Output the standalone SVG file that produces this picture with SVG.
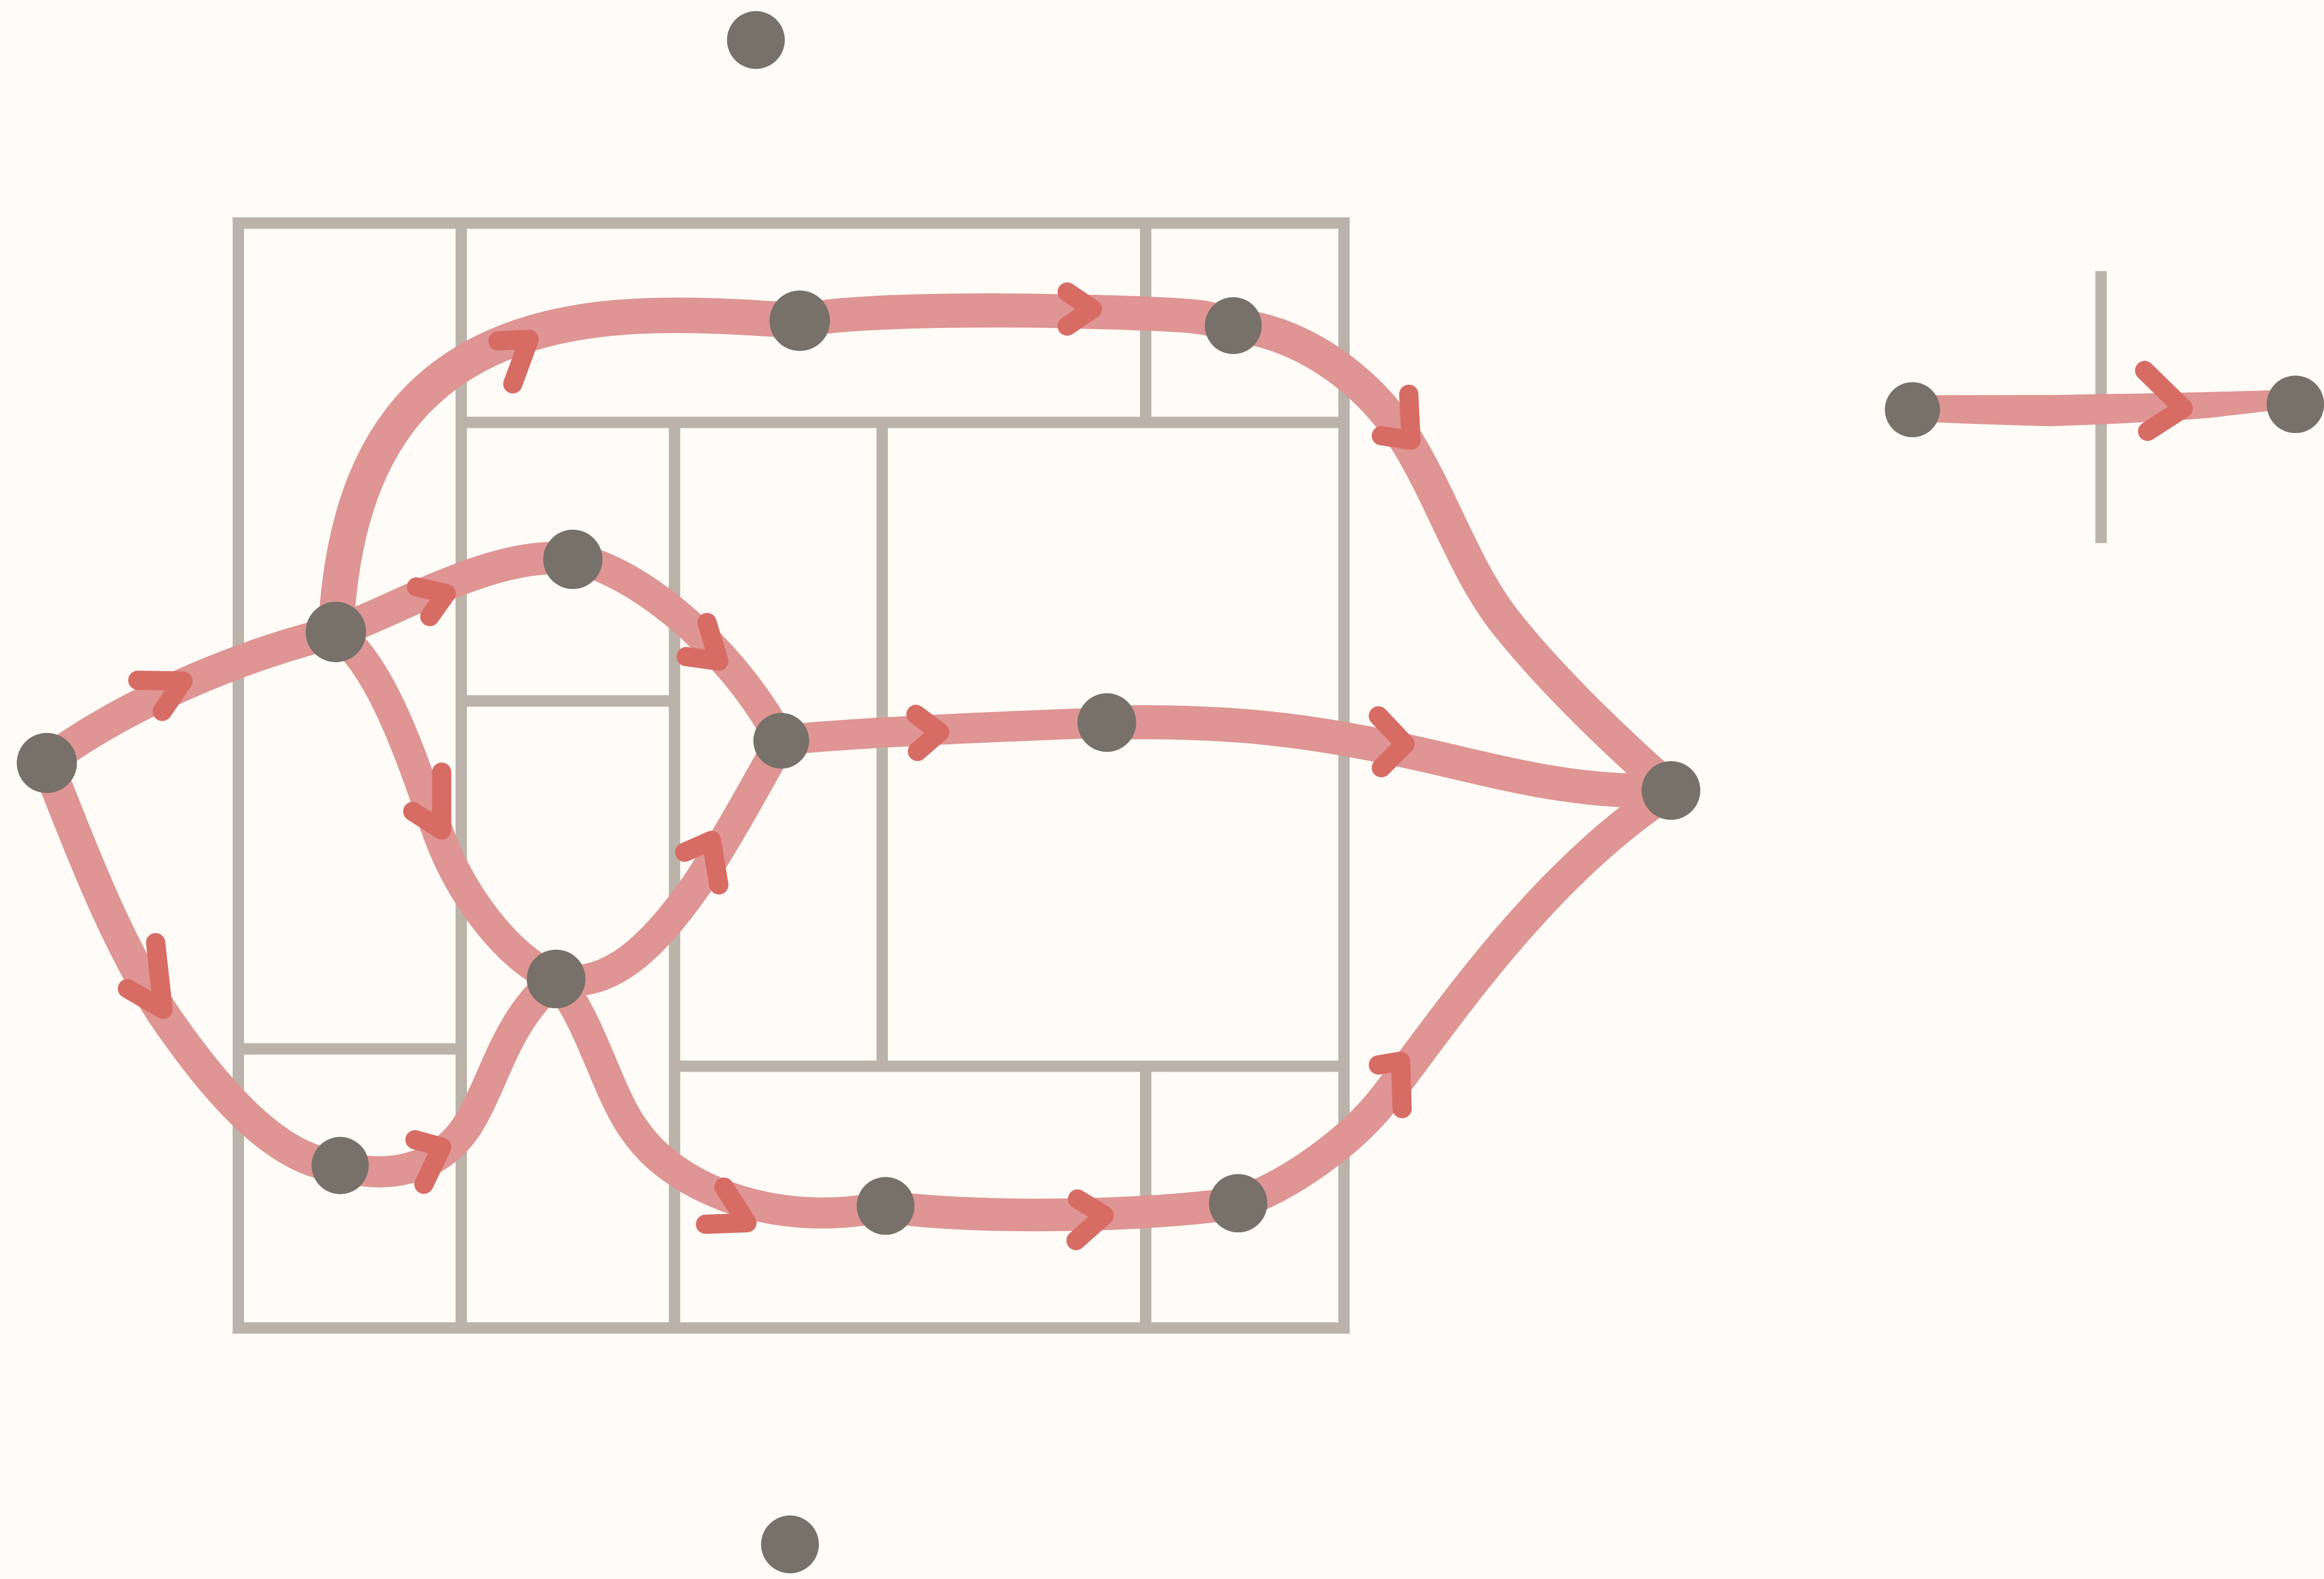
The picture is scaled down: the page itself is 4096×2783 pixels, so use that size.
<svg xmlns="http://www.w3.org/2000/svg" width="4096" height="2783" viewBox="0 0 4096 2783">
<style>
.grid{fill:none;stroke:#bbb3aa}
.edge{fill:none;stroke:#df9593;stroke-linecap:round;stroke-linejoin:round}
.edgefill{fill:#df9593;stroke:none}
.arrow{fill:none;stroke:#d76c65;stroke-linecap:round;stroke-linejoin:round}
.node{fill:#77716a}
</style>
<rect width="4096" height="2783" fill="#fffcf7"/>
<g transform="scale(2.612245)">
<g id="grid" class="grid" stroke-width="7.7">
<rect x="160.8" y="150.5" width="746" height="745.5"/>
<line x1="311.2" y1="150.5" x2="311.2" y2="896"/>
<line x1="773" y1="150.5" x2="773" y2="285"/>
<line x1="311.2" y1="285" x2="906.8" y2="285"/>
<line x1="455.1" y1="285" x2="455.1" y2="896"/>
<line x1="595.2" y1="285" x2="595.2" y2="719.4"/>
<line x1="311.2" y1="472.9" x2="455.1" y2="472.9"/>
<line x1="160.8" y1="707.7" x2="311.2" y2="707.7"/>
<line x1="455.1" y1="719.4" x2="906.8" y2="719.4"/>
<line x1="773" y1="719.4" x2="773" y2="896"/>
<line x1="1417.6" y1="182.9" x2="1417.6" y2="366.4"/>
</g>
<g id="connectors">
<g class="edge" stroke-width="22">
<path d="M31.6,514.6 C65,488 140,448 226.5,426.3"/>
<path d="M226.5,426.3 C268,412 335,370 386.5,377.4"/>
<path d="M226.5,426.3 C232,320 270,225 420,214 C460,211 505,214 539.5,216.4" stroke-width="24"/>
<path d="M539.5,216.4 C570,210 650,208 740,210.5 S810,215 832,219.7" stroke-width="23"/>
<path d="M832,219.7 C870,222 920,250 950,299 C975,340 990,390 1020,425 C1050,462 1090,500 1127.4,533.3" stroke-width="23"/>
<path d="M386.5,377.4 C420,380 490,430 527,499.8" stroke-width="21"/>
<path d="M527,499.8 C560,495 680,490 746.8,487.5" stroke-width="20.5"/>
<path d="M746.8,487.5 C830,486 880,492 950,507 C1010,520 1060,536 1127.4,533.3" stroke-width="23"/>
<path d="M226.5,426.3 C260,450 282,525 296,563 C310,601 340,645 375.2,660.5" stroke-width="21"/>
<path d="M375.2,660.5 C410,668 440,640 470,597 C490,567 510,530 527,499.8" stroke-width="21"/>
<path d="M31.6,514.6 C50,560 75,630 110,684 C140,728 185,785 229.5,786.4"/>
<path d="M229.5,786.4 C260,796 295,790 315,760 C335,728 340,690 375.2,660.5" stroke-width="21"/>
<path d="M375.2,660.5 C400,690 410,740 430,765 C455,800 520,830 597.3,814" stroke-width="21"/>
<path d="M597.3,814 C650,822 760,822 835.4,811.8"/>
<path d="M835.4,811.8 C870,800 912,770 935,740 C975,688 1040,590 1127.4,533.3"/>
</g>
<path class="edgefill" d="M1295,266.6 L1384.4,266.5 Q1460,265.5 1528,263.5 Q1545,262.5 1545,270 Q1545,277 1528,277.6 L1490,282 Q1447,285.5 1384,287.6 Q1340,286.5 1295,284.5 Z"/>
<g class="arrow" stroke-width="13">
<polyline points="93,459 123.5,459.5 109.5,480"/>
<polyline points="281,396 301,400.5 290,416"/>
<polyline points="336,230 357,229 346,259"/>
<polyline points="720,197 737,208.5 720,220"/>
<polyline points="950.5,266 952,297 932,294"/>
<polyline points="477,420 485,446 463,443"/>
<polyline points="618,482 634,494 619,507"/>
<polyline points="930,483 948,502 932,518"/>
<polyline points="298,521 298,560 278.5,547.5"/>
<polyline points="462,575 480,567 485,597"/>
<polyline points="105,636 110,681 86,667"/>
<polyline points="280,769 298,774 286,799"/>
<polyline points="488.5,801 504,825 476,826"/>
<polyline points="727,809 745,820 726,837"/>
<polyline points="930,718.5 945,716 946,748"/>
<polyline points="1447,250 1473,275.5 1449,291"/>
</g>
</g>
<g id="node-1"><circle class="node" cx="510" cy="27" r="19.5"/></g>
<g id="node-2"><circle class="node" cx="31.6" cy="514.8" r="20.3"/></g>
<g id="node-3"><circle class="node" cx="226.6" cy="426.4" r="20.4"/></g>
<g id="node-4"><circle class="node" cx="386.5" cy="377.4" r="20"/></g>
<g id="node-5"><circle class="node" cx="539.6" cy="216.4" r="20.4"/></g>
<g id="node-6"><circle class="node" cx="832.1" cy="219.7" r="19.2"/></g>
<g id="node-7"><circle class="node" cx="527.1" cy="499.8" r="18.8"/></g>
<g id="node-8"><circle class="node" cx="746.8" cy="487.5" r="19.8"/></g>
<g id="node-9"><circle class="node" cx="1127.4" cy="533.3" r="19.8"/></g>
<g id="node-10"><circle class="node" cx="375.2" cy="660.5" r="19.8"/></g>
<g id="node-11"><circle class="node" cx="229.5" cy="786.4" r="19.3"/></g>
<g id="node-12"><circle class="node" cx="597.5" cy="813.6" r="19.5"/></g>
<g id="node-13"><circle class="node" cx="835.4" cy="811.8" r="19.7"/></g>
<g id="node-14"><circle class="node" cx="533" cy="1042" r="19.5"/></g>
<g id="node-15"><circle class="node" cx="1290.3" cy="276.4" r="18.6"/></g>
<g id="node-16"><circle class="node" cx="1548.7" cy="272.8" r="19.4"/></g>
</g>
</svg>
